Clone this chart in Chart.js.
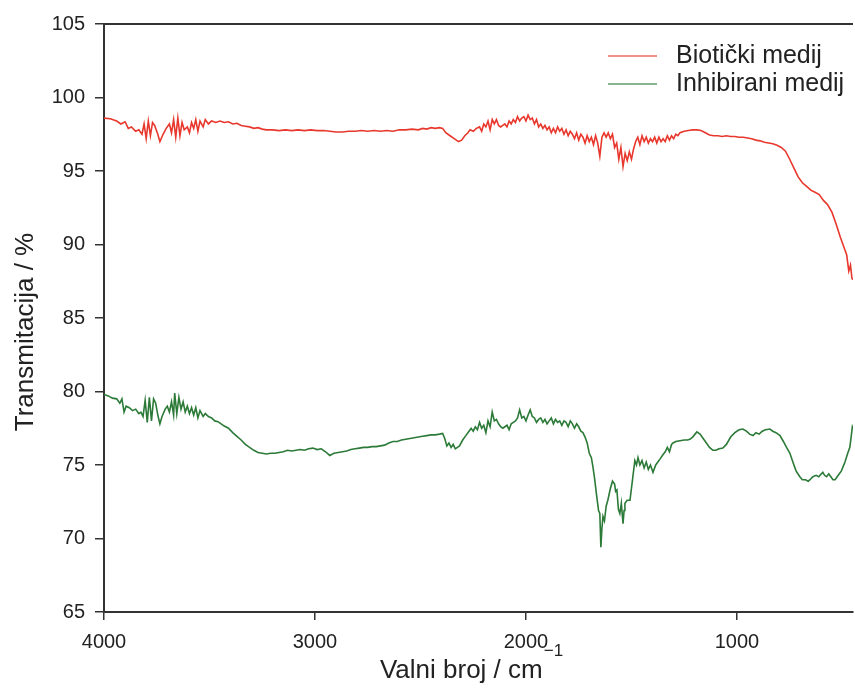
<!DOCTYPE html>
<html>
<head>
<meta charset="utf-8">
<script src="https://cdn.jsdelivr.net/npm/chart.js@4.4.1/dist/chart.umd.min.js"></script>
<style>
  body { margin: 0; background: #fff; }
  canvas { display: block; }
</style>
</head>
<body>
<canvas id="spectrum" width="855" height="699"></canvas>
<script>
// podaci očitani sa spektra (valni broj / cm-1, transmitancija / %)
const seriesNames = ['Biotički medij', 'Inhibirani medij'];
const xTicks = [4000, 3000, 2000, 1000];
const yTicks = [65, 70, 75, 80, 85, 90, 95, 100, 105];

const bioWn = [4000, 3970, 3940, 3920, 3900, 3885, 3870, 3850, 3835, 3820, 3810, 3800, 3790, 3780, 3770, 3760, 3745, 3735, 3720, 3705,
  3690, 3680, 3670, 3660, 3650, 3640, 3630, 3620, 3605, 3595, 3585, 3575, 3565, 3555, 3545, 3530, 3520, 3505, 3490, 3470,
  3450, 3430, 3410, 3390, 3370, 3350, 3330, 3310, 3290, 3270, 3250, 3230, 3200, 3170, 3140, 3110, 3080, 3050, 3020, 2990,
  2960, 2930, 2900, 2870, 2840, 2810, 2780, 2750, 2720, 2690, 2660, 2630, 2600, 2570, 2540, 2510, 2490, 2470, 2450, 2430,
  2410, 2395, 2380, 2360, 2340, 2320, 2305, 2290, 2275, 2265, 2250, 2235, 2220, 2210, 2200, 2190, 2180, 2170, 2160, 2150,
  2140, 2130, 2120, 2110, 2100, 2090, 2080, 2070, 2060, 2050, 2040, 2030, 2020, 2010, 2000, 1990, 1980, 1970, 1960, 1950,
  1940, 1930, 1920, 1910, 1900, 1890, 1880, 1870, 1860, 1850, 1840, 1830, 1820, 1810, 1800, 1790, 1780, 1770, 1760, 1750,
  1740, 1730, 1720, 1710, 1700, 1690, 1680, 1670, 1660, 1650, 1640, 1630, 1620, 1610, 1600, 1590, 1580, 1570, 1560, 1550,
  1540, 1530, 1520, 1510, 1500, 1490, 1480, 1470, 1460, 1450, 1440, 1430, 1420, 1410, 1400, 1390, 1380, 1370, 1360, 1350,
  1340, 1330, 1320, 1310, 1300, 1290, 1280, 1270, 1250, 1230, 1210, 1190, 1170, 1150, 1130, 1110, 1090, 1070, 1050, 1030,
  1010, 990, 970, 950, 930, 910, 890, 870, 850, 830, 810, 790, 770, 750, 730, 710, 690, 670, 650, 630,
  610, 590, 570, 550, 530, 510, 495, 480, 470, 462, 455, 450];
const bioT = [98.6, 98.55, 98.4, 98.2, 98.35, 97.9, 98.0, 97.7, 97.8, 97.5, 98.2, 97.2, 98.4, 97.4, 98.3, 98.1, 97.5, 97.0, 97.5, 97.9,
  98.2, 97.6, 98.5, 97.3, 98.6, 97.4, 98.3, 97.8, 98.0, 97.6, 98.3, 97.9, 98.5, 97.7, 98.4, 98.0, 98.5, 98.2, 98.4, 98.3,
  98.4, 98.3, 98.35, 98.2, 98.25, 98.1, 98.05, 98.0, 97.9, 97.95, 97.85, 97.8, 97.8, 97.75, 97.8, 97.75, 97.8, 97.75, 97.8, 97.75,
  97.75, 97.7, 97.65, 97.65, 97.7, 97.7, 97.75, 97.7, 97.75, 97.7, 97.75, 97.7, 97.8, 97.8, 97.85, 97.8, 97.9, 97.85, 97.95, 97.9,
  97.95, 97.9, 97.6, 97.4, 97.2, 97.0, 97.1, 97.4, 97.6, 97.8, 97.7, 97.9, 98.0, 97.7, 98.2, 98.0, 98.4, 97.8, 98.5, 98.2,
  98.5, 98.1, 98.0, 98.1, 98.2, 98.0, 98.4, 98.2, 98.5, 98.3, 98.7, 98.4, 98.6, 98.7, 98.4, 98.8, 98.5, 98.6, 98.2, 98.5,
  98.0, 98.2, 97.9, 98.1, 97.8, 98.0, 97.6, 97.9, 97.6, 98.0, 97.7, 97.9, 97.5, 97.8, 97.4, 97.7, 97.5, 97.2, 97.6, 97.1,
  97.5, 97.3, 96.9, 97.4, 97.0, 97.3, 96.8, 97.4, 96.9, 96.0, 97.3, 97.6, 97.3, 97.6, 97.2, 97.5, 96.6, 96.9, 95.8, 96.6,
  95.3, 96.2, 95.7, 96.3, 95.8, 96.5, 97.0, 97.3, 96.8, 97.4, 97.0, 97.3, 96.9, 97.2, 97.0, 97.3, 96.9, 97.3, 97.0, 97.2,
  97.0, 97.4, 97.1, 97.4, 97.2, 97.5, 97.4, 97.6, 97.7, 97.75, 97.8, 97.8, 97.75, 97.6, 97.45, 97.4, 97.4, 97.35, 97.4, 97.35,
  97.35, 97.3, 97.3, 97.25, 97.2, 97.1, 97.05, 96.95, 96.9, 96.85, 96.75, 96.6, 96.35, 95.8, 95.2, 94.6, 94.2, 93.95, 93.7, 93.55,
  93.4, 93.0, 92.7, 92.2, 91.4, 90.5, 89.9, 89.3, 88.2, 88.6, 87.7, 87.6];

const inhWn = [4000, 3980, 3960, 3940, 3925, 3915, 3905, 3895, 3880, 3865, 3850, 3835, 3825, 3815, 3805, 3795, 3785, 3775, 3765, 3755,
  3745, 3735, 3725, 3710, 3700, 3690, 3680, 3670, 3665, 3655, 3645, 3635, 3625, 3615, 3605, 3595, 3585, 3575, 3565, 3555,
  3545, 3530, 3520, 3505, 3490, 3475, 3460, 3445, 3430, 3410, 3390, 3370, 3350, 3330, 3310, 3290, 3270, 3250, 3230, 3210,
  3190, 3170, 3150, 3130, 3110, 3090, 3070, 3050, 3030, 3010, 2990, 2970, 2950, 2930, 2910, 2890, 2870, 2850, 2830, 2810,
  2790, 2770, 2750, 2730, 2710, 2690, 2670, 2650, 2630, 2610, 2590, 2570, 2550, 2530, 2510, 2490, 2470, 2450, 2430, 2410,
  2395, 2385, 2375, 2365, 2355, 2345, 2335, 2325, 2315, 2300, 2285, 2270, 2260, 2250, 2240, 2230, 2220, 2210, 2200, 2190,
  2180, 2170, 2160, 2150, 2140, 2130, 2120, 2110, 2100, 2090, 2080, 2070, 2060, 2050, 2040, 2030, 2020, 2010, 2000, 1990,
  1980, 1970, 1960, 1950, 1940, 1930, 1920, 1910, 1900, 1890, 1880, 1870, 1860, 1850, 1840, 1830, 1820, 1810, 1800, 1790,
  1780, 1770, 1760, 1750, 1740, 1730, 1720, 1710, 1700, 1690, 1683, 1675, 1664, 1656, 1650, 1645, 1640, 1635, 1628, 1620,
  1612, 1600, 1590, 1580, 1575, 1569, 1562, 1555, 1548, 1540, 1535, 1531, 1520, 1507, 1495, 1484, 1476, 1469, 1460, 1450,
  1440, 1430, 1420, 1410, 1398, 1385, 1375, 1365, 1351, 1340, 1330, 1320, 1310, 1303, 1290, 1270, 1250, 1235, 1223, 1210,
  1190, 1175, 1160, 1145, 1130, 1114, 1100, 1085, 1067, 1050, 1030, 1010, 990, 972, 955, 940, 924, 910, 895, 880,
  865, 844, 830, 815, 796, 780, 765, 749, 735, 720, 702, 690, 675, 662, 654, 640, 625, 612, 600, 593,
  585, 575, 565, 555, 545, 535, 520, 505, 488, 475, 465, 458, 453, 450];
const inhT = [79.8, 79.7, 79.55, 79.5, 79.2, 79.5, 78.6, 79.0, 78.9, 78.7, 78.8, 78.5, 78.6, 78.3, 79.4, 77.9, 79.6, 78.0, 79.5, 79.2,
  78.4, 77.8, 78.3, 78.8, 79.0, 78.6, 79.3, 78.4, 79.9, 78.5, 79.6, 78.8, 79.3, 78.6, 79.0, 78.5, 78.9, 78.4, 78.9, 78.2,
  78.7, 78.3, 78.5, 78.3, 78.2, 78.0, 77.95, 77.8, 77.65, 77.5, 77.2, 76.95, 76.7, 76.4, 76.2, 76.0, 75.85, 75.8, 75.75, 75.8,
  75.8, 75.85, 75.9, 76.0, 75.95, 76.0, 76.05, 76.0, 76.1, 76.15, 76.05, 76.1, 75.9, 75.65, 75.8, 75.85, 75.9, 75.95, 76.05, 76.1,
  76.15, 76.2, 76.2, 76.25, 76.25, 76.3, 76.35, 76.5, 76.6, 76.6, 76.7, 76.75, 76.8, 76.85, 76.9, 76.95, 77.0, 77.05, 77.05, 77.1,
  77.15, 76.8, 76.3, 76.5, 76.2, 76.4, 76.1, 76.2, 76.3, 76.7, 77.0, 77.3, 77.5, 77.3, 77.6, 77.4, 77.9, 77.5, 77.7, 77.2,
  78.0, 77.6, 78.6, 78.0, 78.1, 77.8, 77.6, 77.5, 77.6, 77.7, 77.4, 77.8, 77.9, 78.0, 78.2, 78.75, 78.2, 78.3, 78.0, 78.4,
  78.75, 78.3, 78.2, 77.9, 78.1, 78.2, 77.9, 78.1, 77.8, 78.0, 78.2, 77.8, 78.1, 77.9, 78.0, 77.7, 78.0, 77.9, 77.6, 78.0,
  77.8, 77.5, 77.8, 77.6, 77.3, 77.2, 76.9, 76.5, 75.8, 75.5, 74.9, 74.1, 72.8, 71.9, 71.7, 69.4, 70.7, 71.5, 71.2, 72.2,
  72.6, 73.4, 73.9, 73.7, 73.2, 73.3, 72.0, 71.7, 72.4, 71.0, 71.9, 72.4, 72.6, 72.6, 74.0, 75.3, 75.0, 75.5, 75.0, 75.3,
  74.8, 75.2, 74.7, 75.0, 74.5, 75.0, 75.2, 75.4, 75.7, 75.9, 76.2, 75.9, 76.4, 76.5, 76.6, 76.65, 76.7, 76.7, 76.75, 76.9,
  77.25, 77.1, 76.8, 76.5, 76.2, 76.0, 76.0, 76.1, 76.15, 76.4, 76.9, 77.2, 77.4, 77.45, 77.3, 77.1, 77.0, 77.2, 77.1, 77.3,
  77.4, 77.45, 77.3, 77.2, 77.0, 76.6, 76.2, 75.8, 75.2, 74.6, 74.2, 74.0, 74.0, 73.9, 74.0, 74.2, 74.3, 74.2, 74.4, 74.5,
  74.3, 74.2, 74.4, 74.2, 74.0, 74.0, 74.3, 74.6, 75.2, 75.8, 76.2, 77.0, 77.6, 77.5];

const lineColors = ['#e8382d', '#2b7a37'];
const axisColor = '#333333';
const textColor = '#222222';
const fontFamily = 'Arial, "Liberation Sans", Helvetica, sans-serif';

const toPoints = (wn, t) => wn.map((w, i) => ({ x: w, y: t[i] }));

// okvir gore, naslovi osi i legenda u grafu
const extrasPlugin = {
    id: 'extras',
    afterDraw(chart) {
        const ctx = chart.ctx;
        const area = chart.chartArea;
        ctx.save();
        ctx.strokeStyle = axisColor;
        ctx.lineWidth = 2;
        ctx.beginPath();
        ctx.moveTo(area.left - 1, area.top);
        ctx.lineTo(area.right, area.top);
        ctx.stroke();

        // naslov x osi s eksponentom
        ctx.fillStyle = textColor;
        ctx.textBaseline = 'alphabetic';
        ctx.textAlign = 'left';
        ctx.font = '26px ' + fontFamily;
        const base = 'Valni broj / cm';
        const baseW = ctx.measureText(base).width;
        ctx.font = '17px ' + fontFamily;
        const sup = '\u22121';
        const supW = ctx.measureText(sup).width;
        const startX = 471 - (baseW + supW) / 2;
        ctx.font = '26px ' + fontFamily;
        ctx.fillText(base, startX, 678);
        ctx.font = '17px ' + fontFamily;
        ctx.fillText(sup, startX + baseW + 1, 656);

        // naslov y osi
        ctx.font = '26px ' + fontFamily;
        ctx.textAlign = 'center';
        ctx.textBaseline = 'middle';
        ctx.translate(26, 332);
        ctx.rotate(-Math.PI / 2);
        ctx.fillText('Transmitacija / %', 0, 0);
        ctx.restore();

        // legenda
        ctx.save();
        ctx.font = '25px ' + fontFamily;
        ctx.textBaseline = 'middle';
        ctx.textAlign = 'left';
        const rows = [56, 84];
        seriesNames.forEach((name, i) => {
            ctx.strokeStyle = lineColors[i];
            ctx.globalAlpha = 0.75;
            ctx.lineWidth = 1.5;
            ctx.beginPath();
            ctx.moveTo(608, rows[i]);
            ctx.lineTo(657, rows[i]);
            ctx.stroke();
            ctx.globalAlpha = 1;
            ctx.fillStyle = textColor;
            ctx.fillText(name, 676, rows[i]);
        });
        ctx.restore();
    }
};

const ctx = document.getElementById('spectrum').getContext('2d');
new Chart(ctx, {
    type: 'line',
    data: {
        datasets: [
            { label: seriesNames[0], data: toPoints(bioWn, bioT), borderColor: lineColors[0], borderWidth: 1.6, pointRadius: 0, tension: 0, fill: false },
            { label: seriesNames[1], data: toPoints(inhWn, inhT), borderColor: lineColors[1], borderWidth: 1.6, pointRadius: 0, tension: 0, fill: false }
        ]
    },
    options: {
        responsive: false,
        animation: false,
        layout: { padding: { top: 24, right: 2, left: 0, bottom: 0 } },
        plugins: {
            legend: { display: false },
            tooltip: { enabled: false }
        },
        scales: {
            x: {
                type: 'linear',
                reverse: true,
                min: 450,
                max: 4000,
                afterBuildTicks: scale => { scale.ticks = xTicks.map(v => ({ value: v })); },
                afterFit: scale => { scale.height = 87; },
                border: { color: axisColor, width: 2 },
                grid: { drawOnChartArea: false, drawTicks: true, tickLength: 8, color: axisColor, lineWidth: 1.5 },
                ticks: { color: textColor, font: { family: fontFamily, size: 20 }, padding: 10, maxRotation: 0, callback: v => String(v) }
            },
            y: {
                min: 65,
                max: 105,
                afterBuildTicks: scale => { scale.ticks = yTicks.map(v => ({ value: v })); },
                afterFit: scale => { scale.width = 104; },
                border: { color: axisColor, width: 2 },
                grid: { drawOnChartArea: false, drawTicks: true, tickLength: 9, color: axisColor, lineWidth: 1.5 },
                ticks: { color: textColor, font: { family: fontFamily, size: 20 }, padding: 10, callback: v => String(v) }
            }
        }
    },
    plugins: [extrasPlugin]
});
</script>
</body>
</html>
